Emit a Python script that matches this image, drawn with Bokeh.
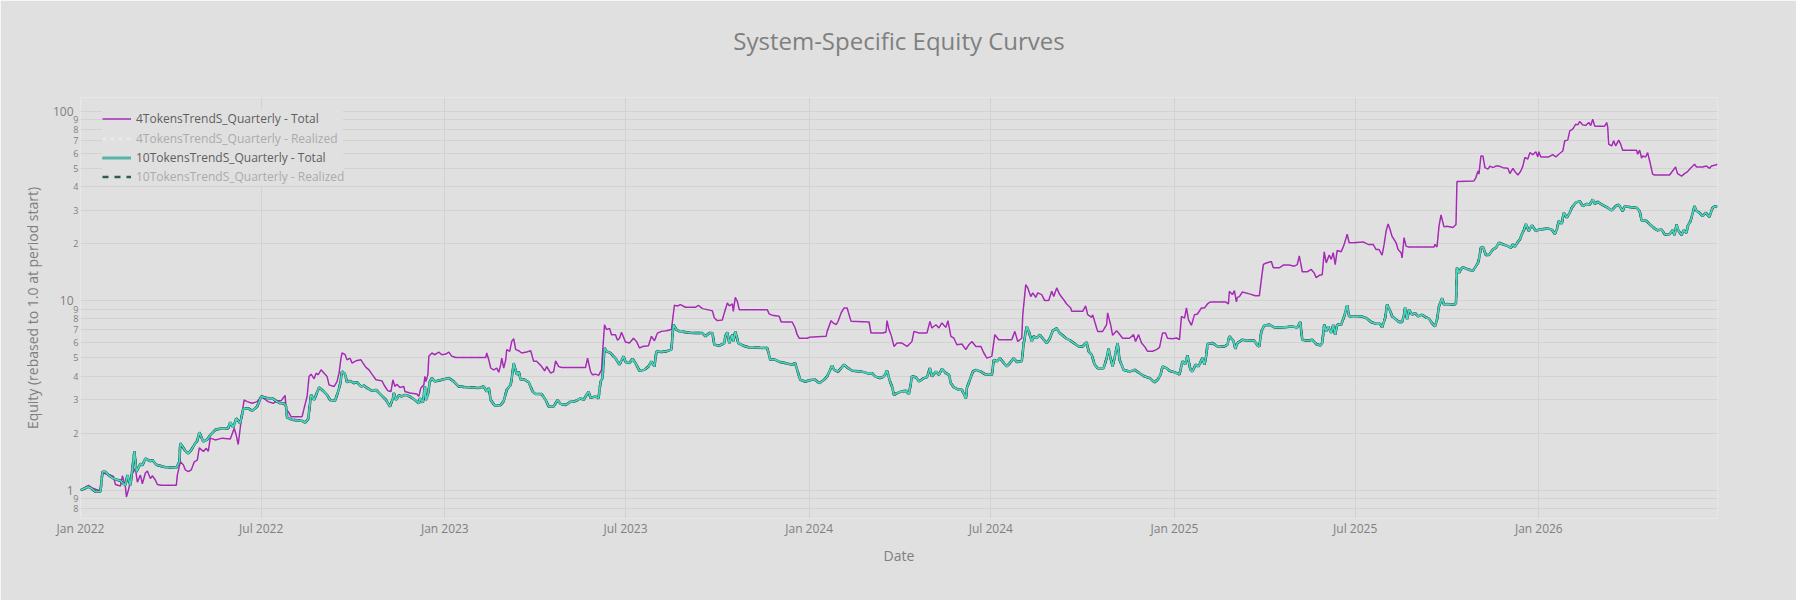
import pandas as pd
from bokeh.plotting import figure
from bokeh.models import (Range1d, FixedTicker, MonthsTicker, DatetimeTickFormatter,
                          CustomJSTickFormatter, LogAxis, Legend, LegendItem, ColumnDataSource, Title)
from bokeh.embed import file_html
from bokeh.resources import INLINE

# ---------------- texts ----------------
title_text = "System-Specific Equity Curves"
x_title = "Date"
y_title = "Equity (rebased to 1.0 at period start)"
name_4_total = "4TokensTrendS_Quarterly - Total"
name_4_realized = "4TokensTrendS_Quarterly - Realized"
name_10_total = "10TokensTrendS_Quarterly - Total"
name_10_realized = "10TokensTrendS_Quarterly - Realized"

# ---------------- y ticks (log axis) ----------------
y_major_ticks = [1, 10, 100]
y_minor_ticks = [0.8, 0.9, 2, 3, 4, 5, 6, 7, 8, 9, 20, 30, 40, 50, 60, 70, 80, 90]

# ---------------- data: (date, equity) ----------------
equity_4tokens_total = [
    ("2022-01-01", 1.00), ("2022-01-09", 1.06), ("2022-01-12", 1.03), ("2022-01-16", 1.01),
    ("2022-01-21", 0.99), ("2022-01-23", 1.24), ("2022-01-26", 1.22), ("2022-01-31", 1.20),
    ("2022-02-03", 1.18), ("2022-02-05", 1.07), ("2022-02-10", 1.05), ("2022-02-12", 1.19),
    ("2022-02-15", 1.04), ("2022-02-16", 0.92), ("2022-02-18", 1.00), ("2022-02-20", 1.11),
    ("2022-02-22", 1.22), ("2022-02-25", 1.30), ("2022-02-27", 1.10), ("2022-03-02", 1.20),
    ("2022-03-04", 1.08), ("2022-03-07", 1.23), ("2022-03-09", 1.26), ("2022-03-12", 1.15),
    ("2022-03-14", 1.19), ("2022-03-17", 1.13), ("2022-03-19", 1.07), ("2022-03-23", 1.06),
    ("2022-04-07", 1.06), ("2022-04-08", 1.20), ("2022-04-11", 1.41), ("2022-04-14", 1.36),
    ("2022-04-16", 1.28), ("2022-04-19", 1.25), ("2022-04-22", 1.28), ("2022-04-25", 1.41),
    ("2022-04-28", 1.44), ("2022-04-30", 1.67), ("2022-05-04", 1.60), ("2022-05-07", 1.66),
    ("2022-05-09", 1.60), ("2022-05-11", 1.88), ("2022-05-16", 1.84), ("2022-05-23", 1.88),
    ("2022-05-31", 1.86), ("2022-06-01", 1.92), ("2022-06-04", 2.12), ("2022-06-06", 1.95),
    ("2022-06-08", 1.74), ("2022-06-10", 2.12), ("2022-06-12", 2.58), ("2022-06-14", 2.99),
    ("2022-06-17", 2.93), ("2022-06-22", 2.87), ("2022-06-27", 2.93), ("2022-07-01", 3.12),
    ("2022-07-08", 2.93), ("2022-07-13", 2.87), ("2022-07-17", 2.96), ("2022-07-21", 2.96),
    ("2022-07-25", 3.16), ("2022-07-26", 2.65), ("2022-07-28", 2.60), ("2022-07-31", 2.44),
    ("2022-08-11", 2.44), ("2022-08-13", 2.70), ("2022-08-16", 3.12), ("2022-08-18", 3.98),
    ("2022-08-20", 4.09), ("2022-08-23", 3.87), ("2022-08-25", 4.14), ("2022-08-27", 4.06),
    ("2022-08-30", 4.31), ("2022-09-03", 4.09), ("2022-09-05", 3.98), ("2022-09-07", 3.59),
    ("2022-09-12", 3.52), ("2022-09-15", 3.74), ("2022-09-17", 4.14), ("2022-09-19", 4.97),
    ("2022-09-20", 5.29), ("2022-09-23", 5.20), ("2022-09-25", 4.87), ("2022-09-28", 4.97),
    ("2022-09-30", 4.68), ("2022-10-04", 4.81), ("2022-10-09", 4.87), ("2022-10-11", 4.68),
    ("2022-10-14", 4.44), ("2022-10-17", 4.31), ("2022-10-20", 4.09), ("2022-10-24", 3.82),
    ("2022-10-30", 3.77), ("2022-11-02", 3.52), ("2022-11-05", 3.34), ("2022-11-08", 3.31),
    ("2022-11-10", 3.82), ("2022-11-12", 3.52), ("2022-11-14", 3.62), ("2022-11-17", 3.48),
    ("2022-11-21", 3.52), ("2022-11-22", 3.31), ("2022-11-27", 3.25), ("2022-12-04", 3.21),
    ("2022-12-06", 3.12), ("2022-12-08", 3.46), ("2022-12-11", 3.60), ("2022-12-12", 3.98),
    ("2022-12-13", 3.74), ("2022-12-15", 4.06), ("2022-12-16", 5.08), ("2022-12-19", 5.29),
    ("2022-12-22", 5.18), ("2022-12-26", 5.35), ("2022-12-29", 5.18), ("2023-01-02", 5.22),
    ("2023-01-05", 5.35), ("2023-01-08", 5.08), ("2023-01-12", 5.01), ("2023-02-11", 5.01),
    ("2023-02-12", 5.29), ("2023-02-14", 4.87), ("2023-02-16", 4.40), ("2023-02-19", 4.31),
    ("2023-02-22", 4.40), ("2023-02-24", 4.19), ("2023-02-26", 4.59), ("2023-02-27", 4.97),
    ("2023-03-01", 4.40), ("2023-03-03", 4.87), ("2023-03-04", 5.51), ("2023-03-07", 5.40),
    ("2023-03-09", 6.09), ("2023-03-11", 6.29), ("2023-03-13", 5.51), ("2023-03-16", 5.44),
    ("2023-03-19", 5.29), ("2023-03-24", 5.35), ("2023-03-28", 5.44), ("2023-03-31", 4.78),
    ("2023-04-03", 4.78), ("2023-04-08", 4.49), ("2023-04-11", 4.26), ("2023-04-13", 4.49),
    ("2023-04-17", 4.14), ("2023-04-20", 4.22), ("2023-04-22", 4.81), ("2023-04-25", 4.49),
    ("2023-04-28", 4.44), ("2023-05-22", 4.44), ("2023-05-24", 4.97), ("2023-05-27", 4.22),
    ("2023-05-29", 4.06), ("2023-06-01", 4.09), ("2023-06-04", 4.03), ("2023-06-07", 4.31),
    ("2023-06-08", 5.29), ("2023-06-10", 7.46), ("2023-06-12", 7.03), ("2023-06-15", 7.14),
    ("2023-06-17", 6.61), ("2023-06-21", 6.60), ("2023-06-23", 6.18), ("2023-06-25", 6.33),
    ("2023-06-27", 6.80), ("2023-07-01", 6.04), ("2023-07-05", 5.97), ("2023-07-09", 6.33),
    ("2023-07-12", 6.09), ("2023-07-15", 5.62), ("2023-07-18", 5.72), ("2023-07-24", 5.78),
    ("2023-07-27", 6.48), ("2023-07-30", 6.14), ("2023-08-02", 6.74), ("2023-08-06", 6.88),
    ("2023-08-11", 6.93), ("2023-08-16", 7.03), ("2023-08-17", 7.77), ("2023-08-19", 9.45),
    ("2023-08-22", 9.37), ("2023-08-25", 9.52), ("2023-08-30", 9.22), ("2023-09-09", 9.22),
    ("2023-09-12", 9.45), ("2023-09-16", 9.07), ("2023-09-21", 8.96), ("2023-09-26", 8.85),
    ("2023-09-28", 8.09), ("2023-10-01", 7.84), ("2023-10-06", 7.90), ("2023-10-08", 8.61),
    ("2023-10-11", 9.72), ("2023-10-13", 9.37), ("2023-10-16", 9.60), ("2023-10-17", 8.78),
    ("2023-10-19", 10.4), ("2023-10-21", 9.92), ("2023-10-23", 8.96), ("2023-11-20", 8.96),
    ("2023-11-22", 8.50), ("2023-11-25", 8.38), ("2023-12-02", 8.26), ("2023-12-04", 7.71),
    ("2023-12-15", 7.71), ("2023-12-18", 7.17), ("2023-12-20", 6.61), ("2023-12-22", 6.33),
    ("2023-12-30", 6.33), ("2024-01-01", 6.40), ("2024-01-18", 6.48), ("2024-01-19", 6.88),
    ("2024-01-23", 7.84), ("2024-01-25", 7.62), ("2024-01-28", 7.46), ("2024-01-30", 7.77),
    ("2024-02-02", 8.61), ("2024-02-05", 9.14), ("2024-02-08", 9.14), ("2024-02-12", 7.77),
    ("2024-03-01", 7.71), ("2024-03-03", 6.74), ("2024-03-15", 6.74), ("2024-03-18", 6.83),
    ("2024-03-19", 7.84), ("2024-03-21", 7.03), ("2024-03-23", 6.61), ("2024-03-26", 5.73),
    ("2024-03-29", 5.97), ("2024-04-03", 5.97), ("2024-04-08", 5.73), ("2024-04-13", 6.09),
    ("2024-04-15", 6.88), ("2024-04-20", 6.74), ("2024-04-28", 6.74), ("2024-05-01", 7.77),
    ("2024-05-03", 7.17), ("2024-05-07", 7.46), ("2024-05-10", 7.17), ("2024-05-13", 7.62),
    ("2024-05-17", 7.22), ("2024-05-19", 7.84), ("2024-05-22", 6.48), ("2024-05-25", 6.33),
    ("2024-05-28", 5.85), ("2024-06-02", 5.90), ("2024-06-06", 5.51), ("2024-06-09", 5.85),
    ("2024-06-12", 6.09), ("2024-06-16", 5.73), ("2024-06-21", 5.73), ("2024-06-24", 5.29),
    ("2024-06-27", 4.97), ("2024-07-02", 5.08), ("2024-07-05", 6.61), ("2024-07-09", 6.22),
    ("2024-07-22", 6.22), ("2024-07-25", 6.88), ("2024-07-28", 6.09), ("2024-08-01", 6.33),
    ("2024-08-02", 8.43), ("2024-08-05", 12.15), ("2024-08-07", 11.67), ("2024-08-10", 10.5),
    ("2024-08-12", 10.98), ("2024-08-15", 10.4), ("2024-08-17", 10.98), ("2024-08-21", 10.76),
    ("2024-08-24", 10.0), ("2024-08-28", 10.0), ("2024-08-31", 11.2), ("2024-09-02", 10.5),
    ("2024-09-05", 11.67), ("2024-09-08", 10.76), ("2024-09-12", 10.1), ("2024-09-15", 9.60),
    ("2024-09-19", 9.14), ("2024-09-20", 8.78), ("2024-10-01", 8.78), ("2024-10-04", 9.37),
    ("2024-10-06", 8.43), ("2024-10-10", 8.16), ("2024-10-11", 8.43), ("2024-10-14", 7.46),
    ("2024-10-16", 6.88), ("2024-10-21", 6.88), ("2024-10-25", 7.46), ("2024-10-26", 8.61),
    ("2024-10-29", 7.46), ("2024-10-31", 6.56), ("2024-11-04", 6.93), ("2024-11-06", 6.74),
    ("2024-11-10", 6.33), ("2024-11-17", 6.33), ("2024-11-21", 6.61), ("2024-11-23", 6.09),
    ("2024-11-26", 6.61), ("2024-11-29", 5.97), ("2024-12-02", 5.73), ("2024-12-05", 5.40),
    ("2024-12-10", 5.40), ("2024-12-14", 5.51), ("2024-12-17", 5.66), ("2024-12-20", 6.74),
    ("2024-12-23", 6.74), ("2024-12-25", 6.33), ("2024-12-30", 6.29), ("2025-01-03", 6.35),
    ("2025-01-06", 6.22), ("2025-01-08", 8.26), ("2025-01-11", 8.09), ("2025-01-13", 9.14),
    ("2025-01-15", 7.94), ("2025-01-18", 7.40), ("2025-01-21", 8.43), ("2025-01-24", 8.50),
    ("2025-01-28", 9.14), ("2025-01-31", 9.14), ("2025-02-03", 9.60), ("2025-02-06", 9.84),
    ("2025-02-21", 9.84), ("2025-02-24", 9.60), ("2025-02-25", 11.2), ("2025-02-28", 10.76),
    ("2025-03-02", 11.3), ("2025-03-04", 9.84), ("2025-03-05", 10.4), ("2025-03-07", 10.5),
    ("2025-03-10", 11.1), ("2025-03-17", 10.85), ("2025-03-23", 10.6), ("2025-03-27", 10.6),
    ("2025-03-29", 12.9), ("2025-03-31", 15.5), ("2025-04-03", 15.8), ("2025-04-08", 16.1),
    ("2025-04-10", 14.9), ("2025-04-16", 14.9), ("2025-04-20", 15.4), ("2025-04-26", 15.4),
    ("2025-05-01", 15.2), ("2025-05-04", 15.5), ("2025-05-06", 17.2), ("2025-05-08", 15.2),
    ("2025-05-09", 14.2), ("2025-05-14", 14.2), ("2025-05-18", 14.6), ("2025-05-21", 14.0),
    ("2025-05-23", 13.2), ("2025-05-26", 13.6), ("2025-05-29", 13.7), ("2025-05-31", 18.1),
    ("2025-06-02", 15.8), ("2025-06-05", 17.4), ("2025-06-07", 16.5), ("2025-06-09", 17.9),
    ("2025-06-11", 15.5), ("2025-06-13", 18.4), ("2025-06-17", 18.1), ("2025-06-20", 19.8),
    ("2025-06-23", 22.4), ("2025-06-25", 20.2), ("2025-06-29", 20.2), ("2025-07-09", 20.4),
    ("2025-07-14", 19.8), ("2025-07-19", 19.8), ("2025-07-22", 18.6), ("2025-07-25", 18.6),
    ("2025-07-28", 17.4), ("2025-07-30", 19.8), ("2025-08-01", 23.3), ("2025-08-03", 25.4),
    ("2025-08-05", 23.7), ("2025-08-07", 21.8), ("2025-08-11", 20.2), ("2025-08-13", 18.6),
    ("2025-08-16", 17.9), ("2025-08-17", 16.8), ("2025-08-19", 21.5), ("2025-08-21", 19.4),
    ("2025-08-23", 19.2), ("2025-09-18", 19.2), ("2025-09-19", 19.8), ("2025-09-21", 19.2),
    ("2025-09-23", 24.7), ("2025-09-25", 28.3), ("2025-09-28", 24.5), ("2025-10-01", 24.7),
    ("2025-10-07", 24.3), ("2025-10-10", 25.2), ("2025-10-11", 42.5), ("2025-10-28", 42.8),
    ("2025-10-30", 44.6), ("2025-11-01", 48.3), ("2025-11-02", 46.5), ("2025-11-04", 58.0),
    ("2025-11-06", 58.0), ("2025-11-08", 50.3), ("2025-11-11", 49.4), ("2025-11-13", 51.3),
    ("2025-11-16", 50.3), ("2025-11-19", 51.3), ("2025-11-22", 51.3), ("2025-11-26", 50.3),
    ("2025-12-01", 49.9), ("2025-12-03", 46.8), ("2025-12-06", 49.9), ("2025-12-08", 48.0),
    ("2025-12-11", 46.0), ("2025-12-14", 48.3), ("2025-12-16", 51.3), ("2025-12-18", 56.9),
    ("2025-12-21", 55.9), ("2025-12-23", 60.4), ("2025-12-26", 58.9), ("2025-12-29", 61.1),
    ("2025-12-31", 57.3), ("2026-01-01", 61.1), ("2026-01-03", 57.3), ("2026-01-11", 57.3),
    ("2026-01-15", 58.9), ("2026-01-18", 57.3), ("2026-01-21", 59.2), ("2026-01-25", 61.6),
    ("2026-01-27", 69.7), ("2026-01-30", 70.3), ("2026-02-01", 78.7), ("2026-02-04", 80.3),
    ("2026-02-07", 85.3), ("2026-02-09", 84.6), ("2026-02-11", 88.2), ("2026-02-14", 84.6),
    ("2026-02-17", 83.9), ("2026-02-20", 87.1), ("2026-02-22", 83.9), ("2026-02-24", 90.7),
    ("2026-02-26", 83.3), ("2026-03-08", 83.3), ("2026-03-10", 87.1), ("2026-03-11", 82.6),
    ("2026-03-12", 66.9), ("2026-03-15", 65.5), ("2026-03-17", 69.7), ("2026-03-19", 65.5),
    ("2026-03-22", 70.3), ("2026-03-24", 66.9), ("2026-03-26", 62.2), ("2026-04-09", 62.2),
    ("2026-04-10", 59.2), ("2026-04-12", 62.2), ("2026-04-14", 56.4), ("2026-04-15", 58.0),
    ("2026-04-18", 57.3), ("2026-04-20", 60.4), ("2026-04-22", 54.7), ("2026-04-25", 46.5),
    ("2026-04-27", 46.0), ("2026-05-12", 46.0), ("2026-05-15", 48.3), ("2026-05-18", 50.7),
    ("2026-05-20", 46.8), ("2026-05-24", 45.4), ("2026-05-27", 46.8), ("2026-05-30", 48.0),
    ("2026-06-02", 49.9), ("2026-06-06", 52.4), ("2026-06-08", 50.7), ("2026-06-14", 50.7),
    ("2026-06-18", 51.3), ("2026-06-21", 49.9), ("2026-06-23", 51.3), ("2026-06-27", 52.0),
    ("2026-06-29", 52.4),
]

equity_10tokens_total = [
    ("2022-01-01", 1.00), ("2022-01-09", 1.04), ("2022-01-12", 1.02), ("2022-01-16", 0.98),
    ("2022-01-21", 0.98), ("2022-01-23", 1.25), ("2022-01-26", 1.25), ("2022-01-29", 1.20),
    ("2022-02-03", 1.15), ("2022-02-10", 1.12), ("2022-02-13", 1.08), ("2022-02-15", 1.06),
    ("2022-02-17", 1.20), ("2022-02-20", 1.06), ("2022-02-22", 1.30), ("2022-02-24", 1.60),
    ("2022-02-26", 1.25), ("2022-03-02", 1.38), ("2022-03-04", 1.35), ("2022-03-07", 1.47),
    ("2022-03-12", 1.42), ("2022-03-14", 1.44), ("2022-03-18", 1.36), ("2022-03-27", 1.32),
    ("2022-04-07", 1.31), ("2022-04-10", 1.41), ("2022-04-11", 1.77), ("2022-04-16", 1.61),
    ("2022-04-19", 1.56), ("2022-04-22", 1.63), ("2022-04-26", 1.77), ("2022-04-28", 1.82),
    ("2022-04-30", 2.02), ("2022-05-04", 1.80), ("2022-05-08", 1.85), ("2022-05-11", 1.95),
    ("2022-05-16", 2.08), ("2022-05-23", 2.12), ("2022-05-29", 2.12), ("2022-05-31", 2.28),
    ("2022-06-03", 2.14), ("2022-06-06", 2.39), ("2022-06-10", 2.25), ("2022-06-13", 2.68),
    ("2022-06-18", 2.70), ("2022-06-22", 2.62), ("2022-06-27", 2.76), ("2022-07-01", 3.12),
    ("2022-07-08", 3.05), ("2022-07-13", 3.03), ("2022-07-17", 2.93), ("2022-07-20", 2.87),
    ("2022-07-24", 2.87), ("2022-07-26", 2.76), ("2022-07-27", 2.41), ("2022-08-01", 2.35),
    ("2022-08-11", 2.32), ("2022-08-14", 2.27), ("2022-08-17", 2.37), ("2022-08-18", 2.60),
    ("2022-08-20", 3.18), ("2022-08-23", 2.99), ("2022-08-28", 3.48), ("2022-08-31", 3.38),
    ("2022-09-05", 3.18), ("2022-09-08", 2.99), ("2022-09-13", 2.96), ("2022-09-16", 3.30),
    ("2022-09-18", 3.60), ("2022-09-20", 4.23), ("2022-09-23", 4.10), ("2022-09-25", 3.71),
    ("2022-09-28", 3.77), ("2022-10-02", 3.67), ("2022-10-05", 3.71), ("2022-10-09", 3.52),
    ("2022-10-12", 3.56), ("2022-10-15", 3.46), ("2022-10-20", 3.34), ("2022-10-24", 3.38),
    ("2022-10-29", 3.18), ("2022-11-03", 2.99), ("2022-11-07", 2.76), ("2022-11-10", 3.05),
    ("2022-11-11", 3.25), ("2022-11-13", 2.99), ("2022-11-16", 3.16), ("2022-11-19", 3.12),
    ("2022-11-22", 3.18), ("2022-11-27", 3.12), ("2022-12-02", 2.99), ("2022-12-06", 2.87),
    ("2022-12-07", 3.05), ("2022-12-10", 2.90), ("2022-12-12", 3.52), ("2022-12-13", 2.99),
    ("2022-12-15", 3.18), ("2022-12-17", 3.74), ("2022-12-19", 3.90), ("2022-12-22", 3.74),
    ("2022-12-29", 3.82), ("2023-01-05", 3.90), ("2023-01-10", 3.74), ("2023-01-15", 3.52),
    ("2023-01-25", 3.48), ("2023-02-04", 3.46), ("2023-02-09", 3.52), ("2023-02-12", 3.31),
    ("2023-02-14", 3.46), ("2023-02-16", 2.99), ("2023-02-20", 2.79), ("2023-02-26", 2.81),
    ("2023-03-01", 2.95), ("2023-03-04", 3.38), ("2023-03-08", 3.60), ("2023-03-10", 4.22),
    ("2023-03-11", 4.68), ("2023-03-14", 4.06), ("2023-03-16", 4.22), ("2023-03-18", 3.82),
    ("2023-03-22", 3.82), ("2023-03-26", 3.71), ("2023-03-30", 3.31), ("2023-04-02", 3.21),
    ("2023-04-08", 3.21), ("2023-04-12", 2.99), ("2023-04-15", 2.76), ("2023-04-20", 2.76),
    ("2023-04-24", 2.99), ("2023-04-27", 2.85), ("2023-05-02", 2.81), ("2023-05-07", 2.93),
    ("2023-05-12", 2.95), ("2023-05-17", 3.05), ("2023-05-20", 2.99), ("2023-05-25", 3.31),
    ("2023-05-27", 3.07), ("2023-06-01", 3.12), ("2023-06-04", 3.05), ("2023-06-06", 3.74),
    ("2023-06-08", 3.90), ("2023-06-10", 5.62), ("2023-06-12", 5.40), ("2023-06-16", 5.29),
    ("2023-06-19", 5.08), ("2023-06-21", 4.95), ("2023-06-25", 4.59), ("2023-06-29", 5.08),
    ("2023-07-01", 4.74), ("2023-07-05", 4.68), ("2023-07-08", 4.93), ("2023-07-11", 4.68),
    ("2023-07-15", 4.26), ("2023-07-20", 4.31), ("2023-07-24", 4.49), ("2023-07-27", 4.78),
    ("2023-07-30", 4.49), ("2023-08-01", 5.40), ("2023-08-06", 5.35), ("2023-08-11", 5.40),
    ("2023-08-16", 5.51), ("2023-08-18", 7.46), ("2023-08-21", 7.03), ("2023-08-24", 6.88),
    ("2023-08-29", 6.83), ("2023-09-06", 6.74), ("2023-09-16", 6.74), ("2023-09-19", 6.48),
    ("2023-09-23", 6.74), ("2023-09-26", 6.74), ("2023-09-28", 5.85), ("2023-10-03", 5.78),
    ("2023-10-08", 5.97), ("2023-10-09", 6.48), ("2023-10-11", 6.80), ("2023-10-13", 5.97),
    ("2023-10-16", 6.61), ("2023-10-17", 6.09), ("2023-10-19", 6.88), ("2023-10-22", 5.97),
    ("2023-10-27", 5.78), ("2023-11-02", 5.66), ("2023-11-20", 5.62), ("2023-11-23", 4.87),
    ("2023-11-28", 4.87), ("2023-12-03", 4.74), ("2023-12-08", 4.68), ("2023-12-15", 4.59),
    ("2023-12-18", 4.68), ("2023-12-20", 4.31), ("2023-12-23", 3.82), ("2023-12-28", 3.74),
    ("2024-01-04", 3.82), ("2024-01-07", 3.82), ("2024-01-11", 3.67), ("2024-01-16", 3.82),
    ("2024-01-19", 3.98), ("2024-01-24", 4.55), ("2024-01-26", 4.31), ("2024-01-30", 4.22),
    ("2024-02-02", 4.40), ("2024-02-05", 4.59), ("2024-02-08", 4.44), ("2024-02-13", 4.26),
    ("2024-02-23", 4.22), ("2024-02-28", 4.14), ("2024-03-04", 4.14), ("2024-03-07", 3.98),
    ("2024-03-12", 3.90), ("2024-03-16", 3.98), ("2024-03-19", 4.26), ("2024-03-22", 3.74),
    ("2024-03-24", 3.52), ("2024-03-26", 3.18), ("2024-03-29", 3.25), ("2024-04-02", 3.31),
    ("2024-04-07", 3.34), ("2024-04-10", 3.21), ("2024-04-13", 3.98), ("2024-04-17", 3.94),
    ("2024-04-20", 3.74), ("2024-04-25", 3.90), ("2024-04-28", 3.94), ("2024-05-01", 4.40),
    ("2024-05-03", 3.98), ("2024-05-07", 4.22), ("2024-05-10", 4.06), ("2024-05-13", 4.36),
    ("2024-05-17", 4.14), ("2024-05-20", 4.06), ("2024-05-22", 3.67), ("2024-05-25", 3.48),
    ("2024-05-30", 3.38), ("2024-06-02", 3.38), ("2024-06-06", 3.05), ("2024-06-07", 3.46),
    ("2024-06-10", 3.82), ("2024-06-13", 4.22), ("2024-06-16", 4.31), ("2024-06-21", 4.22),
    ("2024-06-25", 4.09), ("2024-06-29", 4.06), ("2024-07-02", 4.06), ("2024-07-04", 4.87),
    ("2024-07-07", 4.78), ("2024-07-10", 4.97), ("2024-07-14", 4.68), ("2024-07-17", 4.49),
    ("2024-07-20", 4.68), ("2024-07-24", 4.97), ("2024-07-27", 4.74), ("2024-08-01", 4.78),
    ("2024-08-03", 5.97), ("2024-08-06", 7.31), ("2024-08-08", 6.88), ("2024-08-11", 6.09),
    ("2024-08-13", 6.48), ("2024-08-16", 6.33), ("2024-08-19", 6.61), ("2024-08-23", 6.22),
    ("2024-08-26", 5.97), ("2024-08-29", 6.29), ("2024-09-01", 6.93), ("2024-09-05", 7.14),
    ("2024-09-08", 6.74), ("2024-09-12", 6.48), ("2024-09-15", 6.29), ("2024-09-19", 6.14),
    ("2024-09-22", 5.97), ("2024-09-27", 5.73), ("2024-10-01", 5.73), ("2024-10-05", 6.04),
    ("2024-10-07", 5.40), ("2024-10-10", 5.18), ("2024-10-13", 4.59), ("2024-10-16", 4.40),
    ("2024-10-22", 4.40), ("2024-10-25", 4.97), ("2024-10-27", 5.57), ("2024-10-29", 4.97),
    ("2024-10-31", 4.49), ("2024-11-03", 5.29), ("2024-11-05", 5.97), ("2024-11-07", 4.87),
    ("2024-11-11", 4.31), ("2024-11-17", 4.22), ("2024-11-22", 4.31), ("2024-11-27", 4.14),
    ("2024-12-02", 3.98), ("2024-12-07", 3.90), ("2024-12-12", 3.71), ("2024-12-15", 3.82),
    ("2024-12-18", 4.06), ("2024-12-20", 4.49), ("2024-12-24", 4.40), ("2024-12-27", 4.26),
    ("2025-01-01", 4.19), ("2025-01-06", 4.08), ("2025-01-09", 4.78), ("2025-01-12", 4.62),
    ("2025-01-14", 5.14), ("2025-01-17", 4.31), ("2025-01-19", 4.22), ("2025-01-22", 4.59),
    ("2025-01-25", 4.49), ("2025-01-29", 4.97), ("2025-01-31", 4.59), ("2025-02-02", 5.18),
    ("2025-02-03", 5.90), ("2025-02-08", 5.97), ("2025-02-13", 5.73), ("2025-02-20", 5.73),
    ("2025-02-23", 5.85), ("2025-02-25", 6.48), ("2025-03-01", 6.14), ("2025-03-03", 5.57),
    ("2025-03-05", 5.97), ("2025-03-10", 6.22), ("2025-03-15", 6.14), ("2025-03-22", 6.14),
    ("2025-03-25", 5.80), ("2025-03-27", 5.73), ("2025-03-29", 6.88), ("2025-04-01", 7.40),
    ("2025-04-06", 7.46), ("2025-04-11", 7.22), ("2025-04-20", 7.22), ("2025-04-28", 7.31),
    ("2025-05-04", 7.22), ("2025-05-07", 7.71), ("2025-05-09", 6.22), ("2025-05-14", 6.14),
    ("2025-05-19", 6.22), ("2025-05-23", 5.90), ("2025-05-27", 5.80), ("2025-05-29", 5.97),
    ("2025-05-31", 7.46), ("2025-06-02", 6.88), ("2025-06-04", 7.31), ("2025-06-07", 6.74),
    ("2025-06-09", 7.46), ("2025-06-11", 6.61), ("2025-06-13", 7.46), ("2025-06-17", 7.46),
    ("2025-06-20", 8.26), ("2025-06-23", 9.45), ("2025-06-25", 8.26), ("2025-06-29", 8.26),
    ("2025-07-07", 8.26), ("2025-07-12", 8.09), ("2025-07-17", 7.71), ("2025-07-22", 7.54),
    ("2025-07-26", 7.54), ("2025-07-28", 7.22), ("2025-07-31", 8.09), ("2025-08-02", 9.52),
    ("2025-08-05", 8.85), ("2025-08-07", 8.26), ("2025-08-11", 7.94), ("2025-08-14", 7.71),
    ("2025-08-17", 7.71), ("2025-08-19", 8.43), ("2025-08-20", 9.20), ("2025-08-22", 7.94),
    ("2025-08-24", 8.96), ("2025-08-27", 8.43), ("2025-08-30", 8.60), ("2025-09-02", 8.26),
    ("2025-09-06", 8.43), ("2025-09-10", 8.15), ("2025-09-13", 8.03), ("2025-09-16", 7.60),
    ("2025-09-19", 7.31), ("2025-09-21", 7.94), ("2025-09-23", 9.33), ("2025-09-26", 10.3),
    ("2025-09-28", 9.52), ("2025-10-01", 9.60), ("2025-10-08", 9.52), ("2025-10-10", 9.68),
    ("2025-10-11", 14.9), ("2025-10-13", 14.0), ("2025-10-15", 14.7), ("2025-10-17", 15.0),
    ("2025-10-22", 14.6), ("2025-10-27", 14.4), ("2025-10-30", 15.2), ("2025-11-01", 15.8),
    ("2025-11-02", 16.5), ("2025-11-04", 19.0), ("2025-11-06", 19.2), ("2025-11-09", 17.4),
    ("2025-11-12", 17.4), ("2025-11-16", 18.6), ("2025-11-19", 19.0), ("2025-11-22", 20.2),
    ("2025-11-26", 19.8), ("2025-12-01", 19.4), ("2025-12-04", 19.0), ("2025-12-06", 19.8),
    ("2025-12-08", 19.2), ("2025-12-11", 20.4), ("2025-12-13", 21.0), ("2025-12-15", 22.4),
    ("2025-12-17", 23.5), ("2025-12-19", 25.4), ("2025-12-22", 23.3), ("2025-12-25", 25.0),
    ("2025-12-29", 23.3), ("2026-01-01", 23.7), ("2026-01-10", 24.0), ("2026-01-14", 23.7),
    ("2026-01-17", 22.5), ("2026-01-19", 23.7), ("2026-01-21", 26.3), ("2026-01-24", 25.4),
    ("2026-01-26", 29.1), ("2026-01-29", 27.4), ("2026-02-01", 29.1), ("2026-02-03", 30.9),
    ("2026-02-07", 32.9), ("2026-02-11", 33.5), ("2026-02-14", 31.5), ("2026-02-18", 32.4),
    ("2026-02-21", 32.1), ("2026-02-24", 34.2), ("2026-02-26", 32.4), ("2026-03-01", 33.2),
    ("2026-03-06", 31.9), ("2026-03-11", 30.9), ("2026-03-15", 29.9), ("2026-03-19", 31.5),
    ("2026-03-22", 32.1), ("2026-03-26", 29.7), ("2026-03-28", 31.5), ("2026-04-02", 31.2),
    ("2026-04-09", 30.9), ("2026-04-12", 29.7), ("2026-04-14", 26.5), ("2026-04-19", 26.3),
    ("2026-04-22", 25.3), ("2026-04-27", 24.0), ("2026-04-30", 23.5), ("2026-05-04", 23.7),
    ("2026-05-07", 22.4), ("2026-05-12", 22.4), ("2026-05-15", 23.5), ("2026-05-17", 22.2),
    ("2026-05-19", 25.2), ("2026-05-21", 23.3), ("2026-05-24", 22.2), ("2026-05-26", 23.5),
    ("2026-05-29", 22.8), ("2026-05-30", 24.7), ("2026-06-02", 26.3), ("2026-06-06", 31.5),
    ("2026-06-08", 29.7), ("2026-06-11", 29.1), ("2026-06-14", 27.9), ("2026-06-17", 29.1),
    ("2026-06-21", 27.7), ("2026-06-24", 30.9), ("2026-06-27", 31.5), ("2026-06-29", 31.2),
]

# realized curves track the total curves (drawn underneath them)
equity_4tokens_realized = equity_4tokens_total
equity_10tokens_realized = equity_10tokens_total


def to_source(pairs):
    df = pd.DataFrame(pairs, columns=["date", "equity"])
    df["date"] = pd.to_datetime(df["date"])
    return df


df4 = to_source(equity_4tokens_total)
df4r = to_source(equity_4tokens_realized)
df10 = to_source(equity_10tokens_total)
df10r = to_source(equity_10tokens_realized)

# ---------------- styling ----------------
BG = "#e0e0e0"
GRID = "#d2d2d2"
TXT = "#7f7f7f"
FONT = "Open Sans"
PURPLE = "#a52bb5"
TEAL = "#46d9c2"
DARK = "#2b5d53"

x_start = min(df4["date"].min(), df10["date"].min()).to_pydatetime()
x_end = max(df4["date"].max(), df10["date"].max()).to_pydatetime()

p = figure(width=1796, height=600, x_axis_type="datetime", y_axis_type="log",
           x_range=Range1d(x_start, x_end), y_range=Range1d(0.708, 118),
           output_backend="svg", toolbar_location=None,
           background_fill_color=BG, border_fill_color=BG,
           min_border_left=80, min_border_right=79, min_border_top=97, min_border_bottom=82)
p.outline_line_color = None
p.title.text = ""

# empty spacer between the plot area and the title, then the title itself
spacer = Title(text=" ", text_font=FONT, text_font_size="12px", standoff=21)
p.add_layout(spacer, "above")
main_title = Title(text=title_text, align="center", vertical_align="middle", standoff=0,
                   text_font=FONT, text_font_size="24px", text_font_style="normal",
                   text_color=TXT)
p.add_layout(main_title, "above")

# x axis
xa = p.xaxis[0]
xa.ticker = MonthsTicker(months=[0, 6])
xa.formatter = DatetimeTickFormatter(days="%b %Y", months="%b %Y", years="%b %Y")
xa.axis_label = x_title
xa.axis_label_text_font = FONT
xa.axis_label_text_font_size = "14px"
xa.axis_label_text_font_style = "normal"
xa.axis_label_text_color = TXT
xa.axis_label_standoff = 6
xa.major_label_text_font = FONT
xa.major_label_text_font_size = "12px"
xa.major_label_text_color = TXT
xa.major_label_standoff = 1

# y axis: small digits (2..9) next to the plot
ya = p.yaxis[0]
ya.ticker = FixedTicker(ticks=y_minor_ticks)
ya.formatter = CustomJSTickFormatter(code="""
    const e = Math.floor(Math.log10(tick) + 1e-9);
    return String(Math.round(tick / Math.pow(10, e)));
""")
ya.major_label_text_font = FONT
ya.major_label_text_font_size = "9px"
ya.major_label_text_color = TXT
ya.major_label_standoff = 2

# y axis: decades (1, 10, 100) plus title
yb = LogAxis(ticker=FixedTicker(ticks=y_major_ticks),
             formatter=CustomJSTickFormatter(code="return String(Math.round(tick));"))
yb.major_label_text_font = FONT
yb.major_label_text_font_size = "12px"
yb.major_label_text_color = TXT
yb.major_label_standoff = -3
yb.axis_label = y_title
yb.axis_label_text_font = FONT
yb.axis_label_text_font_size = "14px"
yb.axis_label_text_font_style = "normal"
yb.axis_label_text_color = TXT
yb.axis_label_standoff = 8
p.add_layout(yb, "left")

for ax in (xa, ya, yb):
    ax.axis_line_color = None
    ax.major_tick_line_color = None
    ax.minor_tick_line_color = None
    ax.major_tick_out = 0
    ax.major_tick_in = 0
    ax.minor_tick_out = 0
    ax.minor_tick_in = 0

p.xgrid[0].ticker = MonthsTicker(months=[0, 6])
p.xgrid[0].grid_line_color = GRID
p.ygrid[0].ticker = FixedTicker(ticks=sorted(y_minor_ticks + y_major_ticks))
p.ygrid[0].grid_line_color = GRID

# ---------------- lines ----------------
s4 = ColumnDataSource(df4)
s4r = ColumnDataSource(df4r)
s10 = ColumnDataSource(df10)
s10r = ColumnDataSource(df10r)

r4_real = p.line("date", "equity", source=s4r, line_color="#e8e8e8", line_width=2.8, line_dash="4 4")
r4_tot = p.line("date", "equity", source=s4, line_color=PURPLE, line_width=1.5)
r10_real = p.line("date", "equity", source=s10r, line_color=DARK, line_width=2.4, line_dash="6 6")
r10_edge = p.line("date", "equity", source=s10, line_color=DARK, line_width=2.5)
r10_tot = p.line("date", "equity", source=s10, line_color=TEAL, line_width=1.6)

# ---------------- legend (one box per row) ----------------
legend_rows = [
    (name_4_total, [r4_tot], "#5e5e5e"),
    (name_4_realized, [r4_real], "#ababab"),
    (name_10_total, [r10_edge, r10_tot], "#5e5e5e"),
    (name_10_realized, [r10_real], "#ababab"),
]
for i, (label, rends, col) in enumerate(legend_rows):
    lg = Legend(items=[LegendItem(label=label, renderers=rends)],
                location=(22, round(389.5 - 19.2 * i)),
                orientation="vertical", padding=0, margin=0, spacing=0,
                label_text_font=FONT, label_text_font_size="12px", label_text_color=col,
                glyph_width=29, glyph_height=19, label_height=19, label_width=207,
                label_standoff=5,
                background_fill_color=BG, background_fill_alpha=1.0,
                border_line_alpha=0)
    p.add_layout(lg)

open("out.html", "w").write(file_html(p, INLINE))
